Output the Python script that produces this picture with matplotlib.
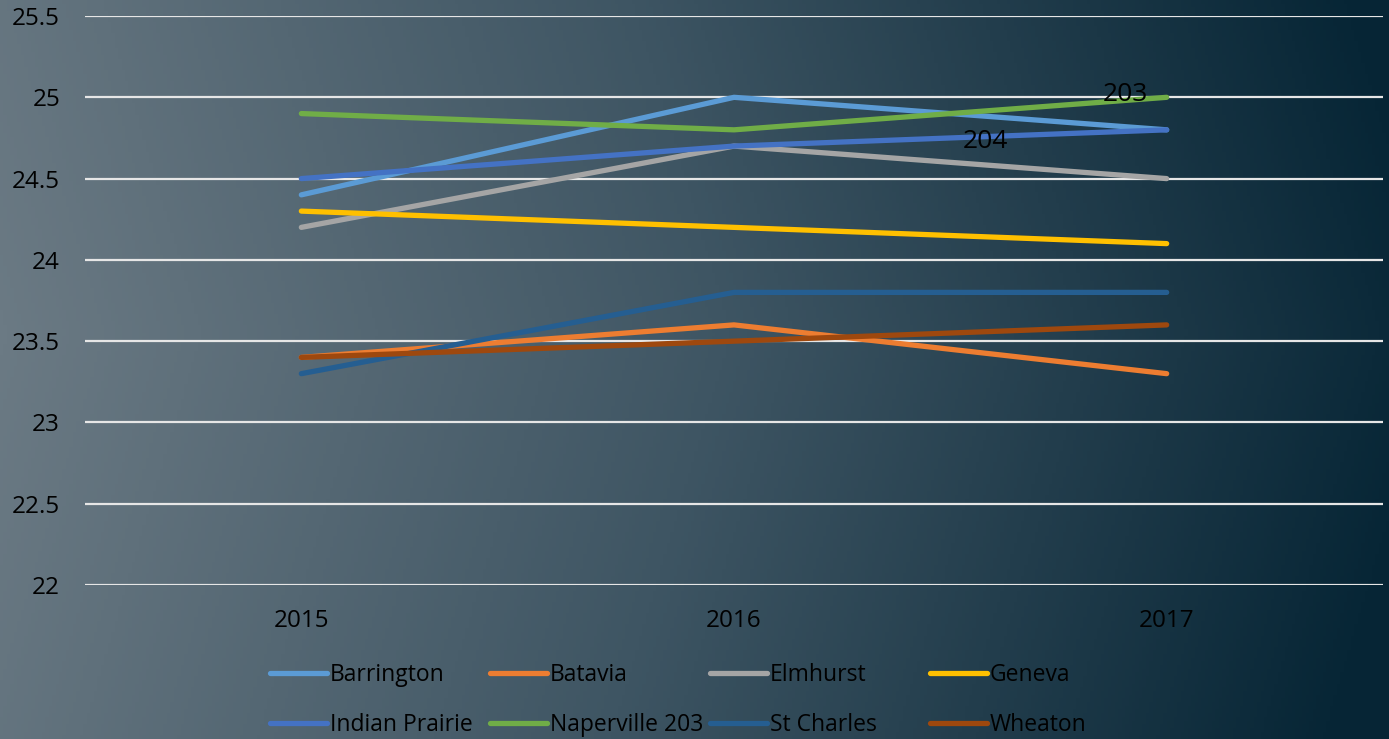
import numpy as np
import matplotlib.pyplot as plt
from matplotlib.colors import LinearSegmentedColormap

years = ["2015", "2016", "2017"]

barrington = [24.4, 25.0, 24.8]
batavia = [23.4, 23.6, 23.3]
elmhurst = [24.2, 24.7, 24.5]
geneva = [24.3, 24.2, 24.1]
indian_prairie = [24.5, 24.7, 24.8]
naperville = [24.9, 24.8, 25.0]
st_charles = [23.3, 23.8, 23.8]
wheaton = [23.4, 23.5, 23.6]

names = ["Barrington", "Batavia", "Elmhurst", "Geneva",
         "Indian Prairie", "Naperville 203", "St Charles", "Wheaton"]
series = [barrington, batavia, elmhurst, geneva,
          indian_prairie, naperville, st_charles, wheaton]
colors = ["#5B9BD5", "#ED7D31", "#A5A5A5", "#FFC000",
          "#4472C4", "#70AD47", "#255E91", "#9E480E"]

plt.rcParams['font.family'] = ['Open Sans', 'DejaVu Sans']

fig = plt.figure(figsize=(13.89, 7.39), dpi=100)

# background gradient
bg = fig.add_axes([0, 0, 1, 1], zorder=-10)
cmap = LinearSegmentedColormap.from_list("bg", ["#6b7a84", "#3e5563", "#062535"])
xx, yy = np.meshgrid(np.linspace(0, 1, 400), np.linspace(0, 1, 200))
grad = np.clip(xx * 0.95 + np.abs(yy - 0.55) * 0.15, 0, 1)
bg.imshow(grad, cmap=cmap, aspect="auto", extent=[0, 1, 0, 1], origin="lower")
bg.axis("off")

ax = fig.add_axes([0.0612, 0.2084, 0.9345, 0.7699])
ax.patch.set_alpha(0)
x = np.arange(len(years))
lines = []
for name, vals, c in zip(names, series, colors):
    ln, = ax.plot(x, vals, color=c, lw=3.8, solid_capstyle="round", label=name)
    lines.append(ln)

ax.set_xlim(-0.5, 2.5)
ax.set_ylim(22, 25.5)
ax.set_yticks(np.arange(22, 25.51, 0.5))
ax.set_yticklabels(["22", "22.5", "23", "23.5", "24", "24.5", "25", "25.5"])
ax.set_xticks(x)
ax.set_xticklabels(years)
ax.grid(axis="y", color="#e6e6e6", lw=1.6)
ax.set_axisbelow(True)
ax.tick_params(length=0, labelsize=17.5, colors="black")
ax.tick_params(axis="y", pad=18)
ax.tick_params(axis="x", pad=17)
for s in ax.spines.values():
    s.set_visible(False)

ax.text(1.905, 25.02, "203", fontsize=19, color="black", ha="center", va="center")
ax.text(1.582, 24.73, "204", fontsize=19, color="black", ha="center", va="center")

# legend: 4 equal-width columns, row-major order
for j in range(4):
    fig.legend([lines[j], lines[j + 4]], [names[j], names[j + 4]],
               loc="center left", bbox_to_anchor=((270 + 220 * j) / 1389, 1 - 700 / 739),
               frameon=False, fontsize=16.5, handlelength=2.5, handletextpad=0.1,
               labelspacing=1.15, borderpad=0, borderaxespad=0)

fig.savefig("out.png", dpi=100)
